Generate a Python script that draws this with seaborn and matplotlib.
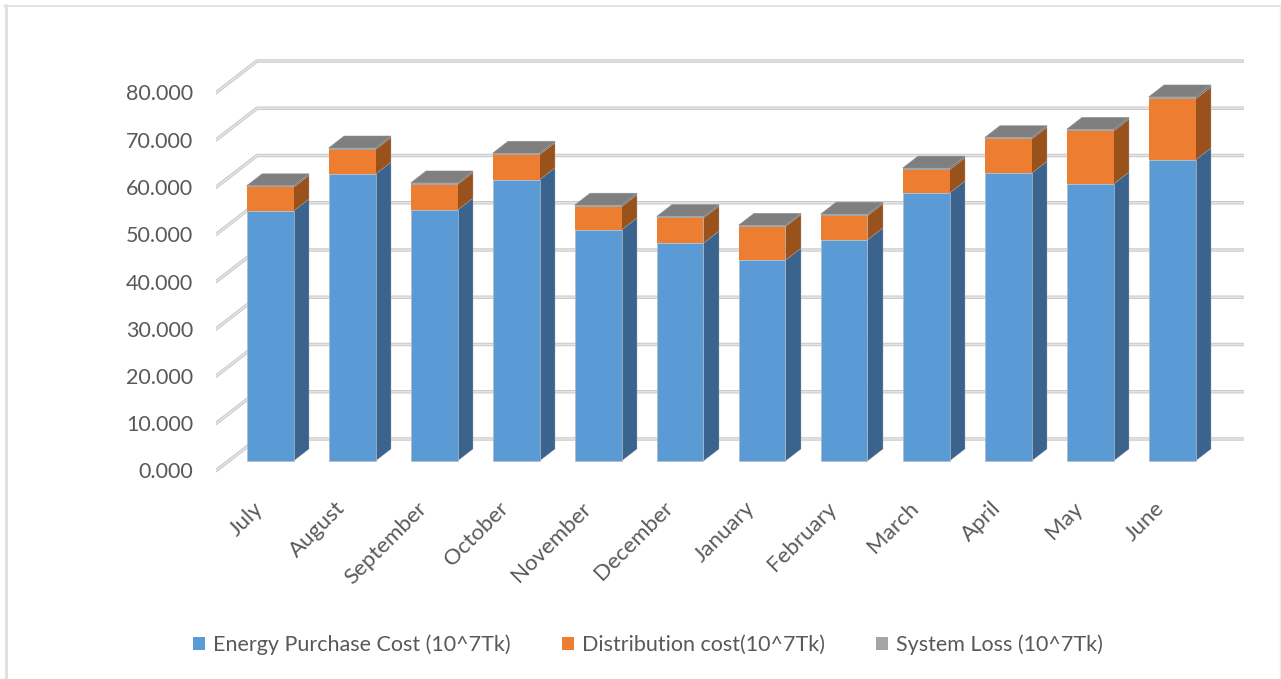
import matplotlib
matplotlib.use("Agg")
import matplotlib.pyplot as plt
import pandas as pd
import seaborn as sns
from matplotlib.lines import Line2D
from matplotlib.patches import Patch, Polygon
from matplotlib.transforms import ScaledTranslation

# Monthly cost components, in units of 10^7 Tk
months = ["July", "August", "September", "October", "November", "December",
          "January", "February", "March", "April", "May", "June"]
energy_purchase = [52.9, 60.7, 53.1, 59.5, 48.9, 46.1, 42.5, 46.8, 56.7, 60.9, 58.6, 63.7]
distribution = [5.0, 5.2, 5.4, 5.3, 4.9, 5.3, 7.1, 5.1, 4.9, 7.2, 11.2, 12.9]
system_loss = [0.35, 0.35, 0.35, 0.35, 0.35, 0.35, 0.3, 0.35, 0.4, 0.35, 0.4, 0.45]
y_ticks = [0, 10, 20, 30, 40, 50, 60, 70, 80]

series_names = ["Energy Purchase Cost (10^7Tk)", "Distribution cost(10^7Tk)", "System Loss (10^7Tk)"]
front_colors = ["#5B9BD5", "#ED7D31", "#A5A5A5"]
side_colors = ["#3A648E", "#9A521D", "#6E6E6E"]
top_color = "#7F7F7F"
text_color = "#595959"

# Pixel geometry of the oblique projection
FIG_W, FIG_H = 1281, 679
PX_PER_CAT = 82.0
PX_PER_UNIT = 4.725
FIRST_CENTER = 270.0
BASE_Y = 461.0
BAR_W = 47.0 / PX_PER_CAT
DEPTH_X = 15.5 / PX_PER_CAT
DEPTH_Y = 12.0 / PX_PER_UNIT
AX_L, AX_R, AX_T, AX_B = 216, 1244, 50, 480


def xd(px):
    return (px - FIRST_CENTER) / PX_PER_CAT


def yd(py):
    return (BASE_Y - py) / PX_PER_UNIT


sns.set_theme(style="white")
plt.rcParams["font.family"] = ["Lato", "DejaVu Sans"]

fig = plt.figure(figsize=(FIG_W / 100, FIG_H / 100), dpi=100, facecolor="white")
ax = fig.add_axes([AX_L / FIG_W, 1 - AX_B / FIG_H, (AX_R - AX_L) / FIG_W, (AX_B - AX_T) / FIG_H])
ax.set_facecolor("none")

# Outer frame: heavy left edge, thinner top edge, faint right edge, open at the bottom
fx = lambda px: px / FIG_W
fy = lambda py: 1 - py / FIG_H
fig.add_artist(Line2D([fx(5.5), fx(5.5)], [fy(5), fy(679)], color="#E0E0E0", lw=2.2))
fig.add_artist(Line2D([fx(4), fx(1281)], [fy(5.5), fy(5.5)], color="#E0E0E0", lw=1.3))
fig.add_artist(Line2D([fx(1280.3), fx(1280.3)], [fy(5), fy(679)], color="#EBEBEB", lw=1.0))

df = pd.DataFrame({"month": months, "energy": energy_purchase,
                   "distribution": distribution, "loss": system_loss})
df["b1"] = df["energy"]
df["b2"] = df["energy"] + df["distribution"]
df["total"] = df["b2"] + df["loss"]

# Front faces of the stacked columns
edge = dict(edgecolor="#B4BAC0", linewidth=0.5)
sns.barplot(data=df, x="month", y="energy", color=front_colors[0], saturation=1,
            width=BAR_W, ax=ax, zorder=5, **edge)
sns.barplot(data=df, x="month", y="distribution", bottom=df["b1"], color=front_colors[1],
            saturation=1, width=BAR_W, ax=ax, zorder=5, linewidth=0)
sns.barplot(data=df, x="month", y="loss", bottom=df["b2"], color=front_colors[2],
            saturation=1, width=BAR_W, ax=ax, zorder=5, linewidth=0)

# Side and top faces follow each value through the same depth offset
for i, row in df.iterrows():
    x1 = i + BAR_W / 2
    x0 = i - BAR_W / 2
    levels = [0, row["b1"], row["b2"], row["total"]]
    for k in range(3):
        ax.add_patch(Polygon(
            [(x1, levels[k]), (x1 + DEPTH_X, levels[k] + DEPTH_Y),
             (x1 + DEPTH_X, levels[k + 1] + DEPTH_Y), (x1, levels[k + 1])],
            closed=True, facecolor=side_colors[k], edgecolor="#A8A8A8", linewidth=0.25, zorder=4))
    ax.add_patch(Polygon(
        [(x0, row["total"]), (x1, row["total"]),
         (x1 + DEPTH_X, row["total"] + DEPTH_Y), (x0 + DEPTH_X, row["total"] + DEPTH_Y)],
        closed=True, facecolor=top_color, edgecolor="#999999", linewidth=0.3, zorder=4))

# Gridlines: a slanted run on the floor side and a long run along the back wall
grid_x = [xd(216), xd(257), xd(1243)]
for v in y_ticks:
    back = yd(439) + v
    front = yd(470.7) + v
    ys = [front, back, back]
    ax.plot(grid_x, ys, color="#CACACA", lw=2.5, zorder=1, solid_capstyle="round", solid_joinstyle="round")
    ax.plot(grid_x, ys, color="#E4E4E4", lw=1.1, zorder=2, solid_capstyle="round", solid_joinstyle="round")

ax.set_xlim(xd(AX_L), xd(AX_R))
ax.set_ylim(yd(AX_B), yd(AX_T))
ax.set_xlabel("")
ax.set_ylabel("")
sns.despine(ax=ax, left=True, bottom=True)

ax.set_yticks(y_ticks, [f"{v:.3f}" for v in y_ticks])
ax.tick_params(axis="y", length=0, pad=16.5, labelsize=15.5, labelcolor=text_color)
shift = ScaledTranslation(0, -9.5 / 100, fig.dpi_scale_trans)
for label in ax.get_yticklabels():
    label.set_transform(label.get_transform() + shift)

ax.set_xticks(range(len(months)), months, rotation=45, ha="right", va="top", rotation_mode="anchor")
ax.tick_params(axis="x", length=0, pad=13, labelsize=16, labelcolor=text_color)
x_shift = ScaledTranslation(-17.5 / 100, 0, fig.dpi_scale_trans)
for label in ax.get_xticklabels():
    label.set_transform(label.get_transform() + x_shift)

handles = [Patch(facecolor=c, edgecolor="none") for c in front_colors]
fig.legend(handles, series_names, loc="center", bbox_to_anchor=(648 / FIG_W, 1 - 645 / FIG_H), ncol=3,
           frameon=False, fontsize=15.5, labelcolor=text_color, handlelength=0.56, handleheight=0.56,
           handletextpad=0.37, columnspacing=2.37)

fig.savefig("out.png", dpi=100, facecolor="white")
